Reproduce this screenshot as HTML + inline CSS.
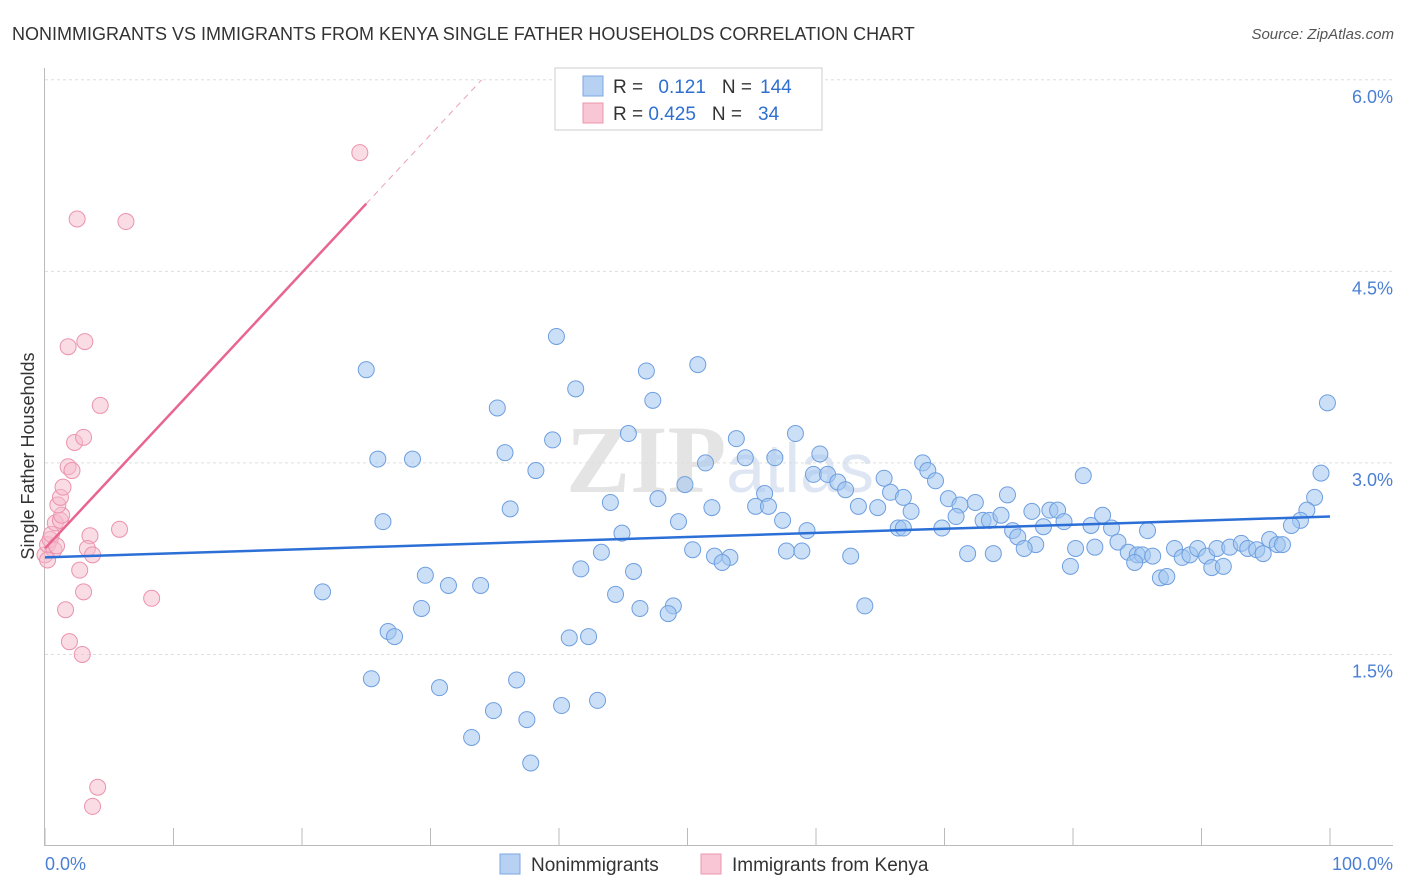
<!DOCTYPE html>
<html><head><meta charset="utf-8"><style>
body{margin:0;background:#fff;font-family:"Liberation Sans",sans-serif}
svg{display:block}
</style></head><body>
<svg id="chart" width="1406" height="892" xmlns="http://www.w3.org/2000/svg">
<text x="12" y="40" font-size="18" fill="#333">NONIMMIGRANTS VS IMMIGRANTS FROM KENYA SINGLE FATHER HOUSEHOLDS CORRELATION CHART</text>
<text x="1394" y="39" font-size="15" fill="#555" font-style="italic" text-anchor="end">Source: ZipAtlas.com</text>
<text x="720" y="492" font-size="96" fill="#e4e4e4" font-family="Liberation Serif,serif" font-weight="bold" text-anchor="middle">ZIP<tspan font-size="70" font-family="Liberation Sans,sans-serif" font-weight="normal" fill="#dde6f2">atlas</tspan></text>
<g id="grid"></g>
<g id="axes"></g>
<g id="marks"></g>
<text transform="translate(34,456) rotate(-90)" font-size="18" fill="#333" text-anchor="middle">Single Father Households</text>
<text x="45" y="870" font-size="18" fill="#4a7fd4">0.0%</text>
<text x="1393" y="870" font-size="18" fill="#4a7fd4" text-anchor="end">100.0%</text>
<g>
<rect x="555" y="68" width="267" height="62" fill="#fff" stroke="#ccc"/>
<rect x="583" y="76" width="20" height="20" fill="#b7d1f3" stroke="#7ca7e3"/>
<rect x="583" y="103" width="20" height="20" fill="#f8c6d4" stroke="#eb97ae"/>
<text x="613" y="93" font-size="19" fill="#333">R = <tspan fill="#2f6fd0" dx="10">0.121</tspan><tspan dx="16" fill="#333">N =</tspan><tspan dx="8" fill="#2f6fd0">144</tspan></text>
<text x="613" y="120" font-size="19" fill="#333">R = <tspan fill="#2f6fd0">0.425</tspan><tspan dx="16" fill="#333">N =</tspan><tspan dx="16" fill="#2f6fd0">34</tspan></text>
</g>
<g>
<rect x="500" y="854" width="20" height="20" fill="#b7d1f3" stroke="#7ca7e3"/>
<text x="531" y="871" font-size="19" fill="#333">Nonimmigrants</text>
<rect x="701" y="854" width="20" height="20" fill="#f8c6d4" stroke="#eb97ae"/>
<text x="732" y="871" font-size="19" fill="#333">Immigrants from Kenya</text>
</g>
</svg>
<script>
const blueX=[39.8,25.0,46.8,50.8,41.3,47.3,35.2,99.8,45.4,39.5,53.8,58.4,25.9,28.6,35.8,51.4,54.5,56.8,60.3,38.2,59.8,60.9,49.8,47.7,44.0,36.2,51.9,56.0,55.3,56.3,61.7,62.3,65.3,65.8,68.3,68.7,69.3,80.8,99.3,98.8,98.2,97.7,97.0,26.3,44.9,49.3,57.4,59.3,63.3,64.8,66.8,67.4,70.3,71.2,72.4,70.9,73.0,73.5,74.4,74.9,76.8,78.2,78.8,79.3,81.4,82.3,83.0,83.5,85.8,77.7,75.3,75.7,77.1,66.4,66.8,69.8,43.3,50.4,52.1,53.3,52.7,57.7,58.9,62.7,71.8,73.8,76.2,80.2,81.7,84.3,85.0,85.4,86.2,87.9,88.5,89.1,89.7,90.4,91.2,92.2,93.1,93.6,94.3,94.8,95.3,95.9,96.3,79.8,84.8,86.8,87.3,90.8,91.7,41.7,45.8,29.6,31.4,33.9,21.6,44.4,48.9,46.3,48.5,63.8,29.3,26.7,27.2,40.8,42.3,25.4,30.7,36.7,34.9,37.5,40.2,43.0,33.2,37.8];
const blueY=[3.99,3.73,3.72,3.77,3.58,3.49,3.43,3.47,3.23,3.18,3.19,3.23,3.03,3.03,3.08,3.00,3.04,3.04,3.07,2.94,2.91,2.91,2.83,2.72,2.69,2.64,2.65,2.76,2.66,2.66,2.85,2.79,2.88,2.77,3.00,2.94,2.86,2.90,2.92,2.73,2.63,2.55,2.51,2.54,2.45,2.54,2.55,2.47,2.66,2.65,2.73,2.62,2.72,2.67,2.69,2.58,2.55,2.55,2.59,2.75,2.62,2.63,2.63,2.54,2.51,2.59,2.49,2.38,2.47,2.50,2.47,2.42,2.36,2.49,2.49,2.49,2.30,2.32,2.27,2.26,2.22,2.31,2.31,2.27,2.29,2.29,2.33,2.33,2.34,2.30,2.28,2.28,2.27,2.33,2.26,2.28,2.33,2.27,2.33,2.34,2.37,2.33,2.32,2.29,2.40,2.36,2.36,2.19,2.22,2.10,2.11,2.18,2.19,2.17,2.15,2.12,2.04,2.04,1.99,1.97,1.88,1.86,1.82,1.88,1.86,1.68,1.64,1.63,1.64,1.31,1.24,1.30,1.06,0.99,1.10,1.14,0.85,0.65];
const pinkX=[0.0,0.2,0.4,0.5,0.7,0.9,0.8,1.2,1.3,1.0,1.2,1.4,1.8,2.1,2.3,3.0,4.3,1.8,3.1,2.5,6.3,24.5,3.5,3.3,3.7,5.8,2.7,3.0,8.3,1.6,1.9,2.9,4.1,3.7,0.2];
const pinkY=[2.28,2.36,2.40,2.44,2.32,2.35,2.53,2.55,2.59,2.67,2.73,2.81,2.97,2.94,3.16,3.20,3.45,3.91,3.95,4.91,4.89,5.43,2.43,2.33,2.28,2.48,2.16,1.99,1.94,1.85,1.60,1.50,0.46,0.31,2.24];
const blueTrend=[2.26,2.58];
const pinkTrend=[2.33,0.108];
const yTicks=[1.5,3.0,4.5,6.0];
const yTickLabels=["1.5%","3.0%","4.5%","6.0%"];
const xTicks=[0,10,20,30,40,50,60,70,80,90,100];

const NS="http://www.w3.org/2000/svg";
const sx=v=>45+v*12.85;
const sy=v=>846-v*127.7;
function mk(tag,attrs,parent){const e=document.createElementNS(NS,tag);for(const k in attrs)e.setAttribute(k,attrs[k]);parent.appendChild(e);return e;}
const grid=document.getElementById('grid'),axes=document.getElementById('axes'),marks=document.getElementById('marks');
yTicks.forEach((t,i)=>{
  const l=mk('line',{x1:45,x2:1393,y1:sy(t),y2:sy(t),stroke:'#ddd','stroke-dasharray':'3,3'},grid);
  
  
  const tx=mk('text',{x:1393,y:sy(t)+23,'font-size':18,fill:'#4a7fd4','text-anchor':'end'},axes);
  tx.textContent=yTickLabels[i];
  
  
});
const la=mk('line',{x1:44.5,x2:44.5,y1:68,y2:846,stroke:'#bbb'},axes);


const ba=mk('line',{x1:44,x2:1393,y1:845.5,y2:845.5,stroke:'#bbb'},axes);


xTicks.forEach(t=>{
  const l=mk('line',{x1:sx(t),x2:sx(t),y1:828,y2:846,stroke:'#bbb'},axes);
  
  
});
blueX.forEach((x,i)=>{
  const c=mk('circle',{cx:sx(x),cy:sy(blueY[i]),r:8,fill:'rgba(160,196,240,0.55)',stroke:'#6e9fe0','stroke-width':1},marks);
  
  
});
pinkX.forEach((x,i)=>{
  const c=mk('circle',{cx:sx(x),cy:sy(pinkY[i]),r:8,fill:'rgba(246,186,204,0.5)',stroke:'#eb93ad','stroke-width':1},marks);
  
  
});
const bt=mk('line',{x1:sx(0),y1:sy(blueTrend[0]),x2:sx(100),y2:sy(blueTrend[1]),stroke:'#2c6fd6','stroke-width':2.5},marks);


const pEnd=(6-pinkTrend[0])/pinkTrend[1];
const pt=mk('line',{x1:sx(0),y1:sy(pinkTrend[0]),x2:sx(25),y2:sy(pinkTrend[0]+pinkTrend[1]*25),stroke:'#e86590','stroke-width':2.5},marks);


const pd=mk('line',{x1:sx(25),y1:sy(pinkTrend[0]+pinkTrend[1]*25),x2:sx(pEnd),y2:sy(6),stroke:'#eaa0b8','stroke-width':1,'stroke-dasharray':'6,5'},marks);


</script>
</body></html>
